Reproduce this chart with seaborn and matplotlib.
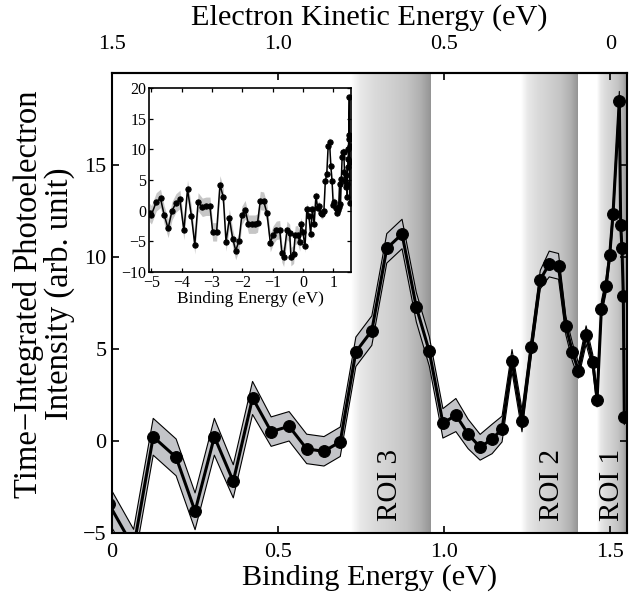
import numpy as np
import pandas as pd
import matplotlib
matplotlib.use("Agg")
import matplotlib.pyplot as plt
from matplotlib.colors import LinearSegmentedColormap
import seaborn as sns

# Binding energy axis (eV) of the time-integrated photoelectron spectrum
binding_energy = [
    -5.06, -5.00, -4.84, -4.70, -4.58, -4.45, -4.32, -4.19, -4.06, -3.93,
    -3.81, -3.68, -3.57, -3.46, -3.32, -3.20, -3.07, -2.98, -2.85, -2.74,
    -2.63, -2.54, -2.43, -2.32, -2.22, -2.11, -2.02, -1.91, -1.80, -1.69,
    -1.58, -1.50, -1.41, -1.30, -1.19, -1.08, -0.99, -0.88, -0.77, -0.70,
    -0.64, -0.53, -0.44, -0.40, -0.31, -0.26, -0.18, -0.11, -0.07, -0.01,
    0.065, 0.124, 0.193, 0.250, 0.308, 0.365, 0.423, 0.479, 0.533, 0.586,
    0.638, 0.687, 0.734, 0.782, 0.827, 0.873, 0.916, 0.955, 0.996, 1.035,
    1.072, 1.108, 1.144, 1.174, 1.204, 1.234, 1.262, 1.289, 1.316, 1.344,
    1.366, 1.386, 1.404, 1.427, 1.447, 1.460, 1.473, 1.487, 1.498, 1.508,
    1.527, 1.531, 1.535, 1.539, 1.542,
]

# Integrated intensity (arb. unit)
intensity = [
    -0.30, -0.67, 1.44, 2.00, -0.67, -2.90, 0.00, 1.27, 1.83, -3.23,
    3.50, -0.90, -5.56, 1.44, 0.55, 0.72, 0.72, -3.45, -3.45, 4.22,
    2.22, -5.10, -1.23, -4.56, -6.50, -4.90, -0.78, 0.17, -2.20, -2.20,
    -2.20, -2.00, 1.66, 1.55, -0.40, -5.20, -4.00, -3.20, -3.10, -6.90,
    -7.60, -3.20, -3.70, -7.50, -7.10, -4.00, -3.90, -5.10, -2.10, -3.40,
    -5.80, 0.23, -0.89, -3.82, 0.23, -2.19, 2.34, 0.51, 0.80, -0.43,
    -0.56, -0.04, 4.85, 6.00, 10.47, 11.25, 7.27, 4.87, 0.96, 1.41,
    0.38, -0.34, 0.11, 0.65, 4.37, 1.10, 5.09, 8.77, 9.62, 9.49,
    6.27, 4.82, 3.82, 5.76, 4.31, 2.25, 7.20, 8.44, 10.10, 12.34,
    18.50, 11.75, 10.47, 7.90, 1.29,
]

# One-sigma uncertainty of each point
uncertainty = [
    1.5, 1.5, 1.5, 1.5, 1.5, 1.5, 1.5, 1.5, 1.5, 1.5,
    1.5, 1.5, 1.5, 1.5, 1.5, 1.5, 1.5, 1.5, 1.5, 1.5,
    1.5, 1.5, 1.5, 1.5, 1.5, 1.5, 1.5, 1.5, 1.5, 1.5,
    1.5, 1.5, 1.5, 1.5, 1.5, 1.5, 1.5, 1.5, 1.5, 1.5,
    1.5, 1.5, 1.5, 1.5, 1.5, 1.5, 1.5, 1.5, 1.0, 1.0,
    1.0, 1.0, 1.0, 1.0, 1.0, 0.9, 0.9, 0.8, 0.8, 0.8,
    0.8, 0.8, 0.8, 0.8, 0.8, 0.8, 0.8, 0.8, 0.8, 0.9,
    0.8, 0.7, 0.8, 0.7, 0.6, 0.6, 0.5, 0.5, 0.7, 0.7,
    0.5, 0.5, 0.4, 0.5, 0.4, 0.4, 0.4, 0.4, 0.4, 0.4,
    0.5, 0.4, 0.4, 0.4, 0.4,
]

# Regions of interest (binding energy, eV)
roi_names = ["ROI 3", "ROI 2", "ROI 1"]
roi_start = [0.72, 1.23, 1.46]
roi_end = [0.96, 1.40, 1.55]
roi_label_x = [0.837, 1.324, 1.505]

# Kinetic energy = photon excess energy - binding energy
excess_energy = 1.5

main_xticks = [0, 0.5, 1.0, 1.5]
main_xticklabels = ["0", "0.5", "1.0", "1.5"]
main_yticks = [-5, 0, 5, 10, 15]
top_ticks = [1.5, 1.0, 0.5, 0]
top_ticklabels = ["1.5", "1.0", "0.5", "0"]
inset_xticks = [-5, -4, -3, -2, -1, 0, 1]
inset_yticks = [-10, -5, 0, 5, 10, 15, 20]

sns.set_theme(style="ticks")
plt.rcParams["font.family"] = ["Liberation Serif", "DejaVu Serif"]
plt.rcParams["axes.unicode_minus"] = True
plt.rcParams["text.color"] = "black"
plt.rcParams["axes.labelcolor"] = "black"
plt.rcParams["xtick.color"] = "black"
plt.rcParams["ytick.color"] = "black"

df = pd.DataFrame({"be": binding_energy, "signal": intensity, "err": uncertainty})
df["lo"] = df["signal"] - df["err"]
df["hi"] = df["signal"] + df["err"]

fig = plt.figure(figsize=(6.3, 5.96), dpi=100)
fig.patch.set_facecolor("white")
ax = fig.add_axes([0.1778, 0.1057, 0.8174, 0.7718])
ax.set_facecolor("white")

# Shaded regions of interest: white-to-grey horizontal gradient
roi_cmap = LinearSegmentedColormap.from_list(
    "roi",
    [(0.0, "#ffffff"), (0.12, "#e8e8e8"), (0.3, "#dadada"), (0.5, "#d0d0d0"),
     (0.7, "#c4c4c4"), (0.87, "#b0b0b0"), (1.0, "#949494")],
)
gradient = np.linspace(0, 1, 256)[None, :]
for name, x0, x1, xl in zip(roi_names, roi_start, roi_end, roi_label_x):
    ax.imshow(gradient, extent=[x0, x1, -5, 20], aspect="auto", cmap=roi_cmap,
              vmin=0, vmax=1, interpolation="bilinear", zorder=0)
    ax.text(xl, -4.35, name, rotation=90, ha="center", va="bottom",
            fontsize=21, color="black", zorder=1)

# Uncertainty band with outlined edges
ax.fill_between(df["be"], df["lo"], df["hi"], color="#c3c4c8", lw=0, zorder=2)
sns.lineplot(data=df, x="be", y="lo", ax=ax, color="black", linewidth=0.8,
             estimator=None, sort=False, zorder=3)
sns.lineplot(data=df, x="be", y="hi", ax=ax, color="black", linewidth=0.8,
             estimator=None, sort=False, zorder=3)
sns.lineplot(data=df, x="be", y="signal", ax=ax, color="black", linewidth=2.2,
             marker="o", markersize=8.5, markeredgecolor="black",
             markerfacecolor="black", estimator=None, sort=False, zorder=4)

ax.set_xlim(0, 1.55)
ax.set_ylim(-5, 20)
ax.set_xticks(main_xticks)
ax.set_xticklabels(main_xticklabels)
ax.set_yticks(main_yticks)
ax.tick_params(direction="in", length=5, width=1.2, labelsize=16,
               right=True, top=False, colors="black")
ax.tick_params(axis="x", pad=7)
ax.tick_params(axis="y", pad=4)
for sp in ax.spines.values():
    sp.set_linewidth(1.5)
    sp.set_color("black")
ax.set_xlabel("Binding Energy (eV)", fontsize=21.8, labelpad=2)
ax.set_ylabel("Time\u2212Integrated Photoelectron\nIntensity (arb. unit)",
              fontsize=23.5, linespacing=1.0)
ax.yaxis.set_label_coords(-0.072, 0.52)

# Kinetic-energy scale on top
top = ax.secondary_xaxis(
    "top",
    functions=(lambda b: excess_energy - b, lambda k: excess_energy - k),
)
top.set_xticks(top_ticks)
top.set_xticklabels(top_ticklabels)
top.tick_params(direction="in", length=5, width=1.2, labelsize=16, pad=14,
                colors="black")
top.set_xlabel("Electron Kinetic Energy (eV)", fontsize=21.8, labelpad=7)
top.spines["top"].set_linewidth(1.5)

# Inset: full binding-energy range
ins = fig.add_axes([0.2365, 0.5436, 0.3206, 0.3087])
ins.set_facecolor("white")
ins.fill_between(df["be"], df["lo"], df["hi"], color="#c6c6c6", lw=0, zorder=1)
sns.lineplot(data=df, x="be", y="signal", ax=ins, color="black", linewidth=1.1,
             marker="o", markersize=3.8, markeredgecolor="black",
             markerfacecolor="black", estimator=None, sort=False, zorder=3)
ins.set_xlim(-5.08, 1.58)
ins.set_ylim(-10, 20)
ins.set_xticks(inset_xticks)
ins.set_yticks(inset_yticks)
ins.tick_params(direction="in", length=3, width=0.9, labelsize=11.5,
                top=True, right=True, colors="black", pad=2)
for sp in ins.spines.values():
    sp.set_linewidth(1.2)
    sp.set_color("black")
ins.set_xlabel("Binding Energy (eV)", fontsize=12.5, labelpad=0)
ins.set_ylabel("")

fig.savefig("out.png", dpi=100, facecolor="white")
